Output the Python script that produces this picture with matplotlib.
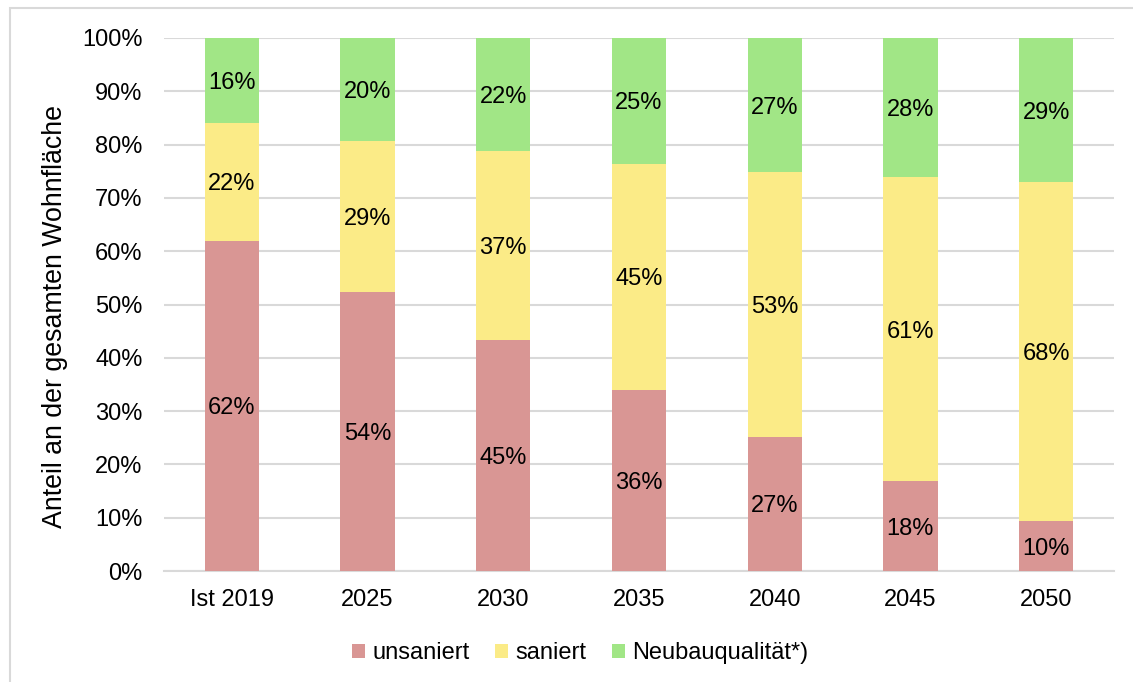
import matplotlib
matplotlib.use("Agg")
import matplotlib.pyplot as plt
import numpy as np
from matplotlib.patches import Rectangle

plt.rcParams['font.family'] = ['Liberation Sans', 'DejaVu Sans']

categories = ["Ist 2019", "2025", "2030", "2035", "2040", "2045", "2050"]
unsaniert = [62, 54, 45, 36, 27, 18, 10]
saniert = [22, 29, 37, 45, 53, 61, 68]
neubau = [16, 20, 22, 25, 27, 28, 29]
series_names = ["unsaniert", "saniert", "Neubauqualität*)"]
colors = ["#D99694", "#FBEB87", "#A1E686"]

FS = 17
W, H = 1133, 682
fig = plt.figure(figsize=(W / 100, H / 100), dpi=100)
ax = fig.add_axes([164 / W, 1 - 571 / H, (1114 - 164) / W, (571 - 38) / H])

# figure frame
fig.patches.append(Rectangle((10 / W, -0.1), 1.2, (1 - 8 / H) + 0.1, transform=fig.transFigure,
                             fill=False, edgecolor="#D9D9D9", linewidth=1.5))

data = np.array([unsaniert, saniert, neubau], dtype=float)
totals = data.sum(axis=0)
shares = data / totals * 100
x = np.arange(len(categories))
bottom = np.zeros(len(categories))
for i in range(3):
    ax.bar(x, shares[i], 0.4, bottom=bottom, color=colors[i], label=series_names[i], zorder=3)
    for j in range(len(categories)):
        ax.text(x[j], bottom[j] + shares[i][j] / 2, f"{data[i][j]:.0f}%", ha="center",
                va="center_baseline", fontsize=FS, color="black", zorder=4)
    bottom += shares[i]

ax.set_xlim(-0.5, len(categories) - 0.5)
ax.set_ylim(0, 100)
ax.set_yticks(np.arange(0, 101, 10))
ax.set_yticklabels([f"{v}%" for v in range(0, 101, 10)], fontsize=FS)
ax.set_xticks(x)
ax.set_xticklabels(categories, fontsize=FS)
ax.tick_params(axis="both", length=0)
ax.tick_params(axis="y", pad=15.5)
ax.tick_params(axis="x", pad=13)
ax.grid(axis="y", color="#D9D9D9", linewidth=1.5, zorder=0)
for s in ["top", "right", "left"]:
    ax.spines[s].set_visible(False)
ax.spines["bottom"].set_color("#D9D9D9")
ax.spines["bottom"].set_linewidth(1.5)
ax.set_ylabel("Anteil an der gesamten Wohnfläche", fontsize=19.3)
ax.yaxis.set_label_coords((68 - 164) / (1114 - 164), (571 - 317) / (571 - 38))

leg = fig.legend(loc="center", bbox_to_anchor=(580 / W, 1 - 653 / H), ncol=3, frameon=False,
                 fontsize=FS, handlelength=0.55, handleheight=0.55, handletextpad=0.3, columnspacing=1.08)

fig.savefig("out.png", dpi=100)
